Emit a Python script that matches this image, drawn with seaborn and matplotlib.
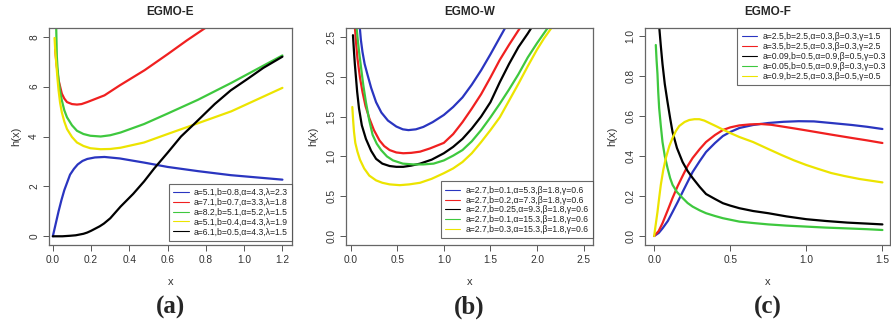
import numpy as np
import pandas as pd
import matplotlib
matplotlib.use('Agg')
import matplotlib.pyplot as plt
import seaborn as sb

# ---- panel (a) EGMO-E ----
a_labels = ['a=5.1,b=0.8,α=4.3,λ=2.3', 'a=7.1,b=0.7,α=3.3,λ=1.8', 'a=8.2,b=5.1,α=5.2,λ=1.5',
            'a=5.1,b=0.4,α=4.3,λ=1.9', 'a=6.1,b=0.5,α=4.3,λ=1.5']
a_blue_x = [0, 0.015, 0.03, 0.045, 0.06, 0.09, 0.11, 0.13, 0.155, 0.18, 0.22, 0.27, 0.35, 0.48, 0.6, 0.76, 0.93, 1.2]
a_blue_y = [0, 0.5, 1.0, 1.45, 1.85, 2.47, 2.7, 2.88, 3.02, 3.1, 3.16, 3.18, 3.12, 2.95, 2.78, 2.61, 2.45, 2.27]
a_red_x = [0.012, 0.02, 0.03, 0.047, 0.06, 0.074, 0.1, 0.126, 0.15, 0.18, 0.22, 0.27, 0.35, 0.48, 0.6, 0.7, 0.81, 0.86]
a_red_y = [7.5, 6.85, 6.26, 5.72, 5.52, 5.38, 5.3, 5.28, 5.3, 5.38, 5.5, 5.65, 6.05, 6.66, 7.3, 7.85, 8.42, 8.75]
a_green_x = [0.017, 0.021, 0.025, 0.03, 0.038, 0.047, 0.06, 0.074, 0.1, 0.126, 0.16, 0.196, 0.25, 0.3,
             0.354, 0.477, 0.6, 0.758, 0.933, 1.2]
a_green_y = [8.6, 7.2, 6.7, 6.26, 5.8, 5.45, 5.05, 4.77, 4.45, 4.23, 4.1, 4.03, 4.0, 4.05,
             4.16, 4.5, 4.92, 5.47, 6.15, 7.25]
a_yellow_x = [0.009, 0.013, 0.018, 0.024, 0.03, 0.038, 0.047, 0.06, 0.074, 0.1, 0.126, 0.16, 0.196, 0.25,
              0.3, 0.354, 0.477, 0.6, 0.758, 0.933, 1.2]
a_yellow_y = [7.95, 7.4, 6.93, 6.35, 5.85, 5.35, 4.97, 4.6, 4.3, 3.98, 3.76, 3.62, 3.53, 3.49,
              3.5, 3.55, 3.76, 4.1, 4.53, 5.01, 5.95]
a_black_x = [0, 0.05, 0.09, 0.12, 0.14, 0.16, 0.18, 0.2, 0.22, 0.245, 0.267, 0.3, 0.354, 0.42, 0.477,
             0.53, 0.6, 0.67, 0.744, 0.846, 0.93, 1.02, 1.1, 1.2]
a_black_y = [0, 0.0, 0.02, 0.04, 0.07, 0.1, 0.15, 0.22, 0.3, 0.4, 0.51, 0.72, 1.19, 1.7, 2.2,
             2.72, 3.35, 4.0, 4.54, 5.3, 5.85, 6.32, 6.75, 7.2]

# ---- panel (b) EGMO-W ----
b_labels = ['a=2.7,b=0.1,α=5.3,β=1.8,γ=0.6', 'a=2.7,b=0.2,α=7.3,β=1.8,γ=0.6',
            'a=2.7,b=0.25,α=9.3,β=1.8,γ=0.6', 'a=2.7,b=0.1,α=15.3,β=1.8,γ=0.6',
            'a=2.7,b=0.3,α=15.3,β=1.8,γ=0.6']
b_blue_x = [0.098, 0.11, 0.127, 0.15, 0.182, 0.22, 0.273, 0.33, 0.4, 0.49, 0.56, 0.62, 0.7, 0.78, 0.88,
            1.0, 1.1, 1.2, 1.3, 1.4, 1.5, 1.6, 1.71]
b_blue_y = [2.62, 2.46, 2.31, 2.16, 2.02, 1.86, 1.68, 1.55, 1.45, 1.375, 1.34, 1.33, 1.34, 1.37, 1.43,
            1.52, 1.62, 1.74, 1.9, 2.08, 2.28, 2.49, 2.72]
b_red_x = [0.047, 0.06, 0.073, 0.1, 0.127, 0.16, 0.2, 0.25, 0.31, 0.36, 0.418, 0.49, 0.564, 0.65, 0.745,
           0.85, 1.0, 1.1, 1.2, 1.3, 1.4, 1.5, 1.6, 1.7, 1.8, 1.86]
b_red_y = [2.6, 2.4, 2.23, 1.99, 1.81, 1.63, 1.48, 1.33, 1.2, 1.13, 1.08, 1.05, 1.04, 1.045, 1.06,
           1.1, 1.17, 1.28, 1.43, 1.6, 1.78, 1.99, 2.21, 2.4, 2.58, 2.68]
b_black_x = [0.025, 0.035, 0.045, 0.055, 0.07, 0.09, 0.12, 0.164, 0.22, 0.273, 0.34, 0.418, 0.49, 0.564,
             0.65, 0.745, 0.87, 1.0, 1.1, 1.2, 1.3, 1.4, 1.5, 1.6, 1.7, 1.8, 1.9, 1.96]
b_black_y = [2.52, 2.33, 2.16, 2.02, 1.81, 1.6, 1.39, 1.22, 1.07, 0.97, 0.91, 0.88, 0.87, 0.87,
             0.885, 0.91, 0.96, 1.04, 1.12, 1.22, 1.35, 1.5, 1.68, 1.93, 2.16, 2.37, 2.54, 2.65]
b_green_x = [0.065, 0.08, 0.095, 0.109, 0.135, 0.164, 0.2, 0.236, 0.28, 0.327, 0.39, 0.455, 0.56, 0.673,
             0.78, 0.89, 1.0, 1.1, 1.2, 1.3, 1.4, 1.5, 1.6, 1.7, 1.8, 1.9, 2.0, 2.12]
b_green_y = [2.6, 2.42, 2.27, 2.14, 1.9, 1.68, 1.45, 1.27, 1.16, 1.08, 1.0, 0.95, 0.91, 0.9,
             0.9, 0.91, 0.95, 1.01, 1.08, 1.19, 1.33, 1.49, 1.66, 1.84, 2.03, 2.24, 2.42, 2.62]
b_yellow_x = [0.018, 0.027, 0.036, 0.05, 0.073, 0.1, 0.145, 0.2, 0.273, 0.34, 0.418, 0.527, 0.63, 0.745,
              0.87, 1.0, 1.1, 1.2, 1.3, 1.4, 1.5, 1.6, 1.7, 1.8, 1.9, 2.0, 2.075, 2.16]
b_yellow_y = [1.62, 1.45, 1.31, 1.17, 1.06, 0.96, 0.85, 0.76, 0.7, 0.67, 0.65, 0.64, 0.65, 0.67,
              0.72, 0.79, 0.85, 0.93, 1.04, 1.18, 1.33, 1.49, 1.7, 1.91, 2.13, 2.34, 2.48, 2.62]

# ---- panel (c) EGMO-F ----
c_labels = ['a=2.5,b=2.5,α=0.3,β=0.3,γ=1.5', 'a=3.5,b=2.5,α=0.3,β=0.3,γ=2.5',
            'a=0.09,b=0.5,α=0.9,β=0.5,γ=0.3', 'a=0.05,b=0.5,α=0.9,β=0.3,γ=0.3',
            'a=0.9,b=2.5,α=0.3,β=0.5,γ=0.5']
c_blue_x = [0, 0.03, 0.055, 0.09, 0.121, 0.155, 0.187, 0.22, 0.253, 0.3, 0.341, 0.4, 0.452, 0.5, 0.56,
            0.65, 0.75, 0.85, 0.95, 1.05, 1.163, 1.3, 1.4, 1.5]
c_blue_y = [0, 0.015, 0.038, 0.075, 0.12, 0.17, 0.22, 0.27, 0.32, 0.375, 0.42, 0.465, 0.5, 0.52, 0.54,
            0.555, 0.565, 0.571, 0.574, 0.573, 0.565, 0.555, 0.546, 0.535]
c_red_x = [0, 0.03, 0.055, 0.09, 0.121, 0.155, 0.187, 0.22, 0.253, 0.3, 0.341, 0.4, 0.452, 0.5, 0.56,
           0.63, 0.7, 0.77, 0.837, 0.92, 1.0, 1.163, 1.3, 1.4, 1.5]
c_red_y = [0, 0.025, 0.064, 0.13, 0.19, 0.25, 0.3, 0.35, 0.39, 0.435, 0.47, 0.505, 0.53, 0.543, 0.553,
           0.558, 0.56, 0.556, 0.548, 0.538, 0.528, 0.507, 0.49, 0.478, 0.465]
c_black_x = [0.033, 0.044, 0.055, 0.07, 0.088, 0.105, 0.121, 0.15, 0.187, 0.22, 0.253, 0.3, 0.341, 0.4,
             0.452, 0.5, 0.56, 0.65, 0.75, 0.87, 1.0, 1.13, 1.27, 1.4, 1.5]
c_black_y = [1.05, 0.95, 0.86, 0.76, 0.67, 0.59, 0.52, 0.44, 0.37, 0.325, 0.29, 0.245, 0.21, 0.185,
             0.164, 0.152, 0.139, 0.125, 0.114, 0.098, 0.084, 0.075, 0.067, 0.062, 0.058]
c_green_x = [0.011, 0.016, 0.022, 0.027, 0.033, 0.044, 0.055, 0.07, 0.088, 0.105, 0.121, 0.15, 0.187, 0.22,
             0.253, 0.3, 0.341, 0.4, 0.452, 0.56, 0.65, 0.75, 0.87, 1.0, 1.13, 1.27, 1.4, 1.5]
c_green_y = [0.955, 0.88, 0.81, 0.72, 0.64, 0.55, 0.47, 0.4, 0.34, 0.29, 0.256, 0.22, 0.19, 0.165,
             0.147, 0.128, 0.114, 0.1, 0.089, 0.072, 0.065, 0.058, 0.052, 0.047, 0.042, 0.038, 0.034, 0.03]
c_yellow_x = [0, 0.011, 0.022, 0.033, 0.044, 0.06, 0.077, 0.1, 0.121, 0.143, 0.165, 0.2, 0.231, 0.265,
              0.297, 0.33, 0.363, 0.41, 0.452, 0.5, 0.56, 0.65, 0.75, 0.837, 0.92, 1.0, 1.08, 1.163,
              1.25, 1.35, 1.5]
c_yellow_y = [0, 0.06, 0.12, 0.19, 0.256, 0.33, 0.39, 0.45, 0.49, 0.525, 0.55, 0.57, 0.58, 0.584,
              0.584, 0.577, 0.565, 0.548, 0.532, 0.515, 0.495, 0.47, 0.435, 0.405, 0.378, 0.355, 0.335, 0.315,
              0.3, 0.285, 0.268]

BLUE, RED, GREEN, YELLOW, BLACK = '#2a35c0', '#f02020', '#3ec83e', '#ece400', '#000000'


def make_df(xs, ys, labels):
    parts = []
    for x, y, lab in zip(xs, ys, labels):
        parts.append(pd.DataFrame({'x': x, 'h': y, 'series': lab}))
    return pd.concat(parts, ignore_index=True)


sb.set_style('white')
plt.rcParams['font.family'] = ['Liberation Sans', 'DejaVu Sans']

fig = plt.figure(figsize=(8.91, 3.24), dpi=100)

panels = [
    dict(pos=[0.055, 0.2438, 0.2727, 0.6698], title='EGMO-E', tag='(a)',
         df=make_df([a_blue_x, a_red_x, a_green_x, a_yellow_x, a_black_x],
                    [a_blue_y, a_red_y, a_green_y, a_yellow_y, a_black_y], a_labels),
         labels=a_labels, colors=[BLUE, RED, GREEN, YELLOW, BLACK],
         xlim=(-0.02, 1.25), ylim=(-0.35, 8.35),
         xt=[0, 0.2, 0.4, 0.6, 0.8, 1.0, 1.2], xtl=['0.0', '0.2', '0.4', '0.6', '0.8', '1.0', '1.2'],
         yt=[0, 2, 4, 6, 8], ytl=['0', '2', '4', '6', '8'],
         leg=dict(loc='lower right', bbox_to_anchor=(1.0, 0.02))),
    dict(pos=[0.3883, 0.2438, 0.2772, 0.6698], title='EGMO-W', tag='(b)',
         df=make_df([b_blue_x, b_red_x, b_black_x, b_green_x, b_yellow_x],
                    [b_blue_y, b_red_y, b_black_y, b_green_y, b_yellow_y], b_labels),
         labels=b_labels, colors=[BLUE, RED, BLACK, GREEN, YELLOW],
         xlim=(-0.05, 2.6), ylim=(-0.11, 2.61),
         xt=[0, 0.5, 1.0, 1.5, 2.0, 2.5], xtl=['0.0', '0.5', '1.0', '1.5', '2.0', '2.5'],
         yt=[0, 0.5, 1.0, 1.5, 2.0, 2.5], ytl=['0.0', '0.5', '1.0', '1.5', '2.0', '2.5'],
         leg=dict(loc='lower right', bbox_to_anchor=(1.0, 0.03))),
    dict(pos=[0.7239, 0.2438, 0.2750, 0.6698], title='EGMO-F', tag='(c)',
         df=make_df([c_blue_x, c_red_x, c_black_x, c_green_x, c_yellow_x],
                    [c_blue_y, c_red_y, c_black_y, c_green_y, c_yellow_y], c_labels),
         labels=c_labels, colors=[BLUE, RED, BLACK, GREEN, YELLOW],
         xlim=(-0.06, 1.55), ylim=(-0.045, 1.04),
         xt=[0, 0.5, 1.0, 1.5], xtl=['0.0', '0.5', '1.0', '1.5'],
         yt=[0, 0.2, 0.4, 0.6, 0.8, 1.0], ytl=['0.0', '0.2', '0.4', '0.6', '0.8', '1.0'],
         leg=dict(loc='upper right', bbox_to_anchor=(1.0, 1.0))),
]

for p in panels:
    ax = fig.add_axes(p['pos'])
    sb.lineplot(data=p['df'], x='x', y='h', hue='series', hue_order=p['labels'],
                palette=p['colors'], estimator=None, sort=False, linewidth=1.6, ax=ax)
    ax.set_xlim(*p['xlim'])
    ax.set_ylim(*p['ylim'])
    ax.set_xticks(p['xt'])
    ax.set_xticklabels(p['xtl'], fontsize=7.3, color='#333333')
    ax.set_yticks(p['yt'])
    ax.set_yticklabels(p['ytl'], fontsize=7.3, color='#333333', rotation=90, va='center')
    ax.tick_params(axis='both', direction='out', length=4, width=0.7, color='#555555', pad=3,
                   bottom=True, left=True)
    for s in ax.spines.values():
        s.set_color('#666666')
        s.set_linewidth(0.9)
    ax.set_xlabel('x', fontsize=8, color='#333333', labelpad=9)
    ax.set_ylabel('h(x)', fontsize=8, color='#333333', labelpad=6)
    ax.set_title(p['title'], fontsize=8.5, fontweight='bold', pad=9)
    handles, labs = ax.get_legend_handles_labels()
    for h in handles:
        h.set_linewidth(0.8)
    leg = ax.legend(handles, labs, fontsize=6.2, frameon=True, fancybox=False,
                    handlelength=1.8, handletextpad=0.6, labelspacing=0.1,
                    borderpad=0.5, borderaxespad=0.0, **p['leg'])
    leg.get_frame().set_edgecolor('#444444')
    leg.get_frame().set_linewidth(0.8)
    for t in leg.get_texts():
        t.set_color('#222222')
    cx = p['pos'][0] + p['pos'][2] / 2
    fig.text(cx, 0.052, p['tag'], ha='center', va='center', fontsize=18, fontweight='bold',
             family=['Liberation Serif', 'DejaVu Serif'])

fig.savefig('out.png', dpi=100)
